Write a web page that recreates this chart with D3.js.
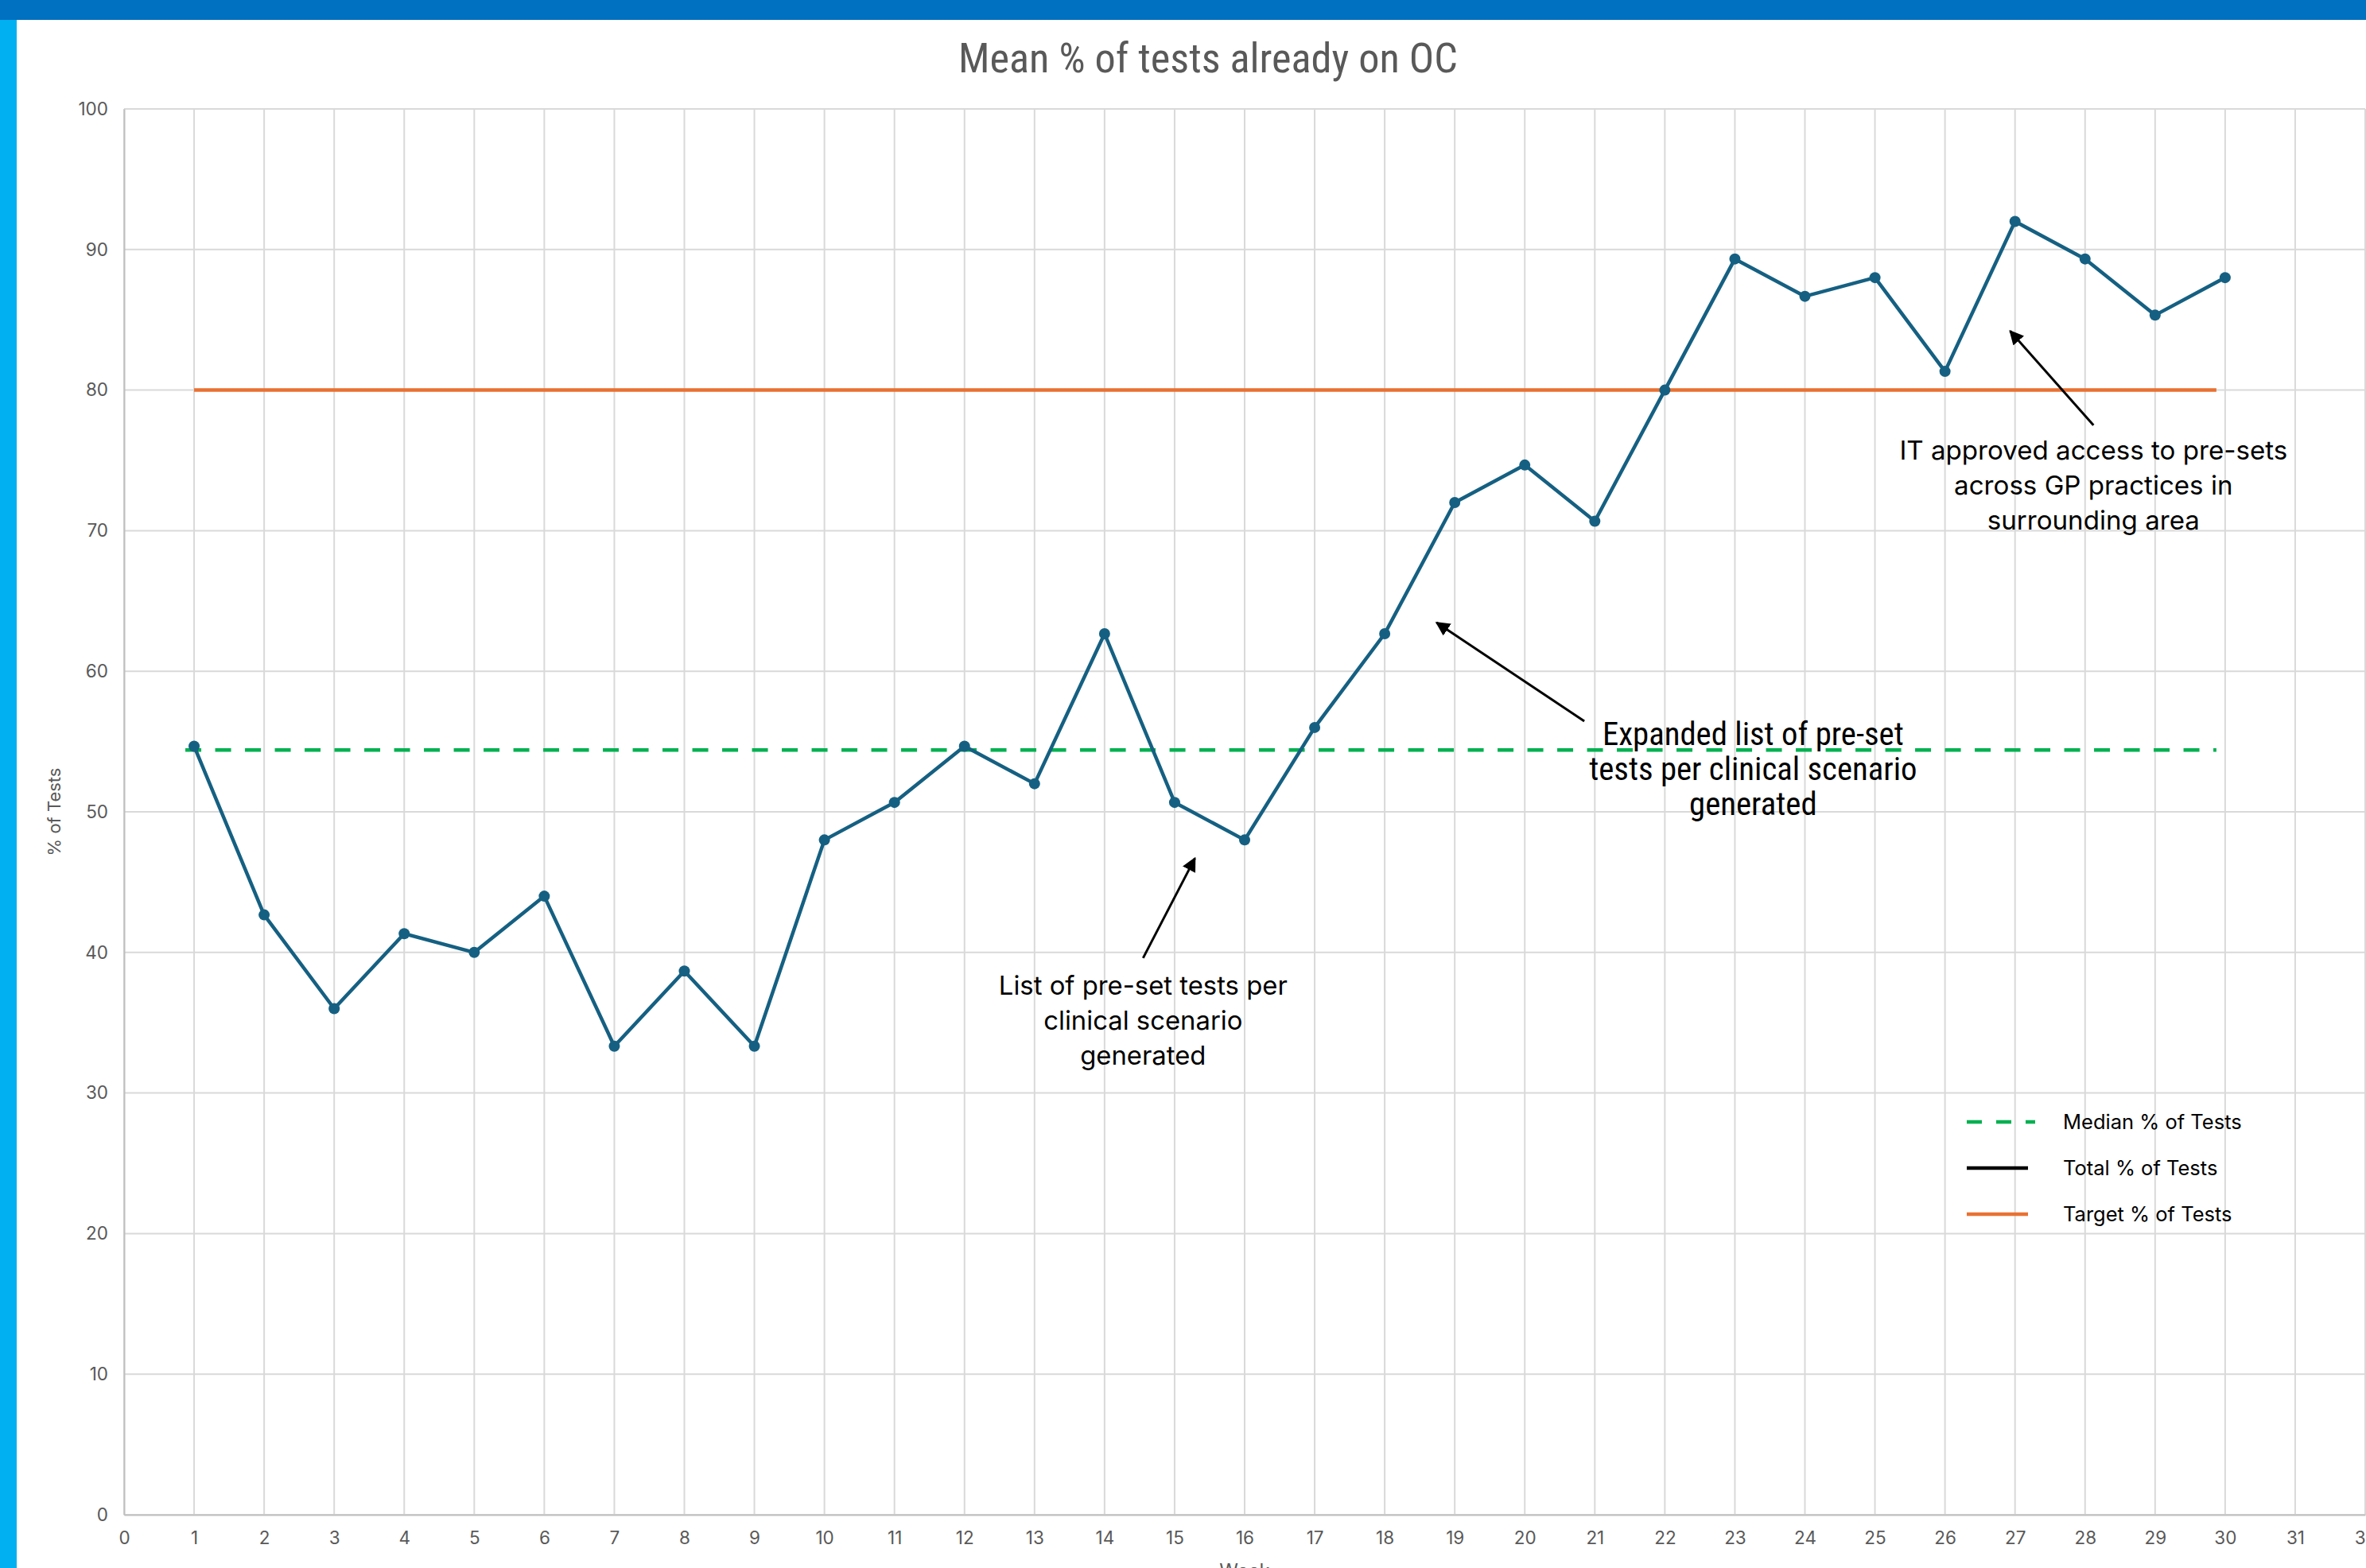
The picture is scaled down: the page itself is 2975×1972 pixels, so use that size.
<!DOCTYPE html>
<html>
<head>
<meta charset="utf-8">
<script src="https://cdn.jsdelivr.net/npm/d3@7"></script>
<style>
  html, body { margin: 0; padding: 0; background: #fff; }
  svg { display: block; }
</style>
</head>
<body>
<div id="chart"></div>
<script>
// Data
var weeks = [1, 2, 3, 4, 5, 6, 7, 8, 9, 10, 11, 12, 13, 14, 15, 16, 17, 18, 19, 20, 21, 22, 23, 24, 25, 26, 27, 28, 29, 30];
var pctTests = [54.67, 42.67, 36, 41.33, 40, 44, 33.33, 38.67, 33.33, 48, 50.67, 54.67, 52, 62.67, 50.67, 48, 56, 62.67, 72, 74.67, 70.67, 80, 89.33, 86.67, 88, 81.33, 92, 89.33, 85.33, 88];
var medianValue = 54.4;
var medianSpan = [0.875, 29.875];
var targetValue = 80;
var targetSpan = [1, 29.875];
var xTicks = [0, 1, 2, 3, 4, 5, 6, 7, 8, 9, 10, 11, 12, 13, 14, 15, 16, 17, 18, 19, 20, 21, 22, 23, 24, 25, 26, 27, 28, 29, 30, 31, 32];
var yTicks = [0, 10, 20, 30, 40, 50, 60, 70, 80, 90, 100];
var legendLabels = ['Median % of Tests', 'Total % of Tests', 'Target % of Tests'];

// annotations: text lines, text anchor (week, %), arrow tail and tip (week, %)
var notes = [
  { lines: ['List of pre-set tests per', 'clinical scenario', 'generated'], at: [14.55, 37.0], tail: [14.55, 39.6], tip: [15.29, 46.7], narrow: false, fitW: 363 },
  { lines: ['Expanded list of pre-set', 'tests per clinical scenario', 'generated'], at: [23.26, 54.75], tail: [20.85, 56.45], tip: [18.74, 63.46], narrow: true, fitW: 379 },
  { lines: ['IT approved access to pre-sets', 'across GP practices in', 'surrounding area'], at: [28.12, 75.06], tail: [28.12, 77.5], tip: [26.93, 84.2], narrow: false, fitW: 488 }
];

var width = 2975,
    height = 1972,
    margin = { top: 137, right: 1, bottom: 67, left: 156 };

var regularFont = 'Inter, "Open Sans", "Noto Sans", sans-serif',
    narrowFont = '"Liberation Sans Narrow", "Roboto Condensed", "DejaVu Sans Condensed", sans-serif';

var svg = d3.select('#chart').append('svg')
    .attr('width', width)
    .attr('height', height);

// Frame bars
svg.append('rect').attr('x', 0).attr('y', 0).attr('width', width).attr('height', 25).attr('fill', '#0070C0');
svg.append('rect').attr('x', 0).attr('y', 25).attr('width', 21).attr('height', height - 25).attr('fill', '#00B0F0');

var x = d3.scaleLinear().domain([0, 32]).range([margin.left, width - margin.right]);
var y = d3.scaleLinear().domain([0, 100]).range([height - margin.bottom, margin.top]);

// Grid
var grid = svg.append('g').attr('class', 'grid');
grid.selectAll('.vline')
    .data(xTicks)
  .enter().append('line')
    .attr('x1', function(d) { return x(d); })
    .attr('x2', function(d) { return x(d); })
    .attr('y1', y(0))
    .attr('y2', y(100))
    .attr('stroke', '#D9D9D9')
    .attr('stroke-width', 2);

grid.selectAll('.hline')
    .data(yTicks)
  .enter().append('line')
    .attr('x1', x(0))
    .attr('x2', x(32))
    .attr('y1', function(d) { return y(d); })
    .attr('y2', function(d) { return y(d); })
    .attr('stroke', '#D9D9D9')
    .attr('stroke-width', 2);

// Axes
var xAxis = d3.axisBottom(x).tickValues(xTicks).tickSize(0).tickPadding(21).tickFormat(d3.format('d'));
var yAxis = d3.axisLeft(y).tickValues(yTicks).tickSize(0).tickPadding(20).tickFormat(d3.format('d'));

var gx = svg.append('g').attr('transform', 'translate(0,' + y(0) + ')').call(xAxis);
var gy = svg.append('g').attr('transform', 'translate(' + x(0) + ',0)').call(yAxis);

[gx, gy].forEach(function(g) {
  g.select('.domain').attr('stroke', '#BFBFBF').attr('stroke-width', 2);
  g.selectAll('text')
    .attr('fill', '#595959')
    .style('font-family', regularFont)
    .style('font-size', '22.5px');
});

// Axis titles
svg.append('text')
    .attr('transform', 'translate(76,' + ((y(0) + y(100)) / 2) + ') rotate(-90)')
    .attr('text-anchor', 'middle')
    .attr('fill', '#595959')
    .style('font-family', regularFont)
    .style('font-size', '22px')
    .text('% of Tests');

svg.append('text')
    .attr('x', (x(0) + x(32)) / 2)
    .attr('y', 1984)
    .attr('text-anchor', 'middle')
    .attr('fill', '#595959')
    .style('font-family', regularFont)
    .style('font-size', '24px')
    .text('Week');

// Title
var title = svg.append('text')
    .attr('x', 1519)
    .attr('y', 91)
    .attr('text-anchor', 'middle')
    .attr('fill', '#595959')
    .style('font-family', narrowFont)
    .style('font-size', '44px')
    .text('Mean % of tests already on OC');
fitText(title, 628, 44);

// Target line
svg.append('line')
    .attr('x1', x(targetSpan[0]))
    .attr('x2', x(targetSpan[1]))
    .attr('y1', y(targetValue))
    .attr('y2', y(targetValue))
    .attr('stroke', '#E97132')
    .attr('stroke-width', 4.5);

// Median line
svg.append('line')
    .attr('x1', x(medianSpan[0]))
    .attr('x2', x(medianSpan[1]))
    .attr('y1', y(medianValue))
    .attr('y2', y(medianValue))
    .attr('stroke', '#00B050')
    .attr('stroke-width', 4.5)
    .attr('stroke-dasharray', '20,17.5');

// Main series
var series = weeks.map(function(w, i) { return { week: w, value: pctTests[i] }; });

var line = d3.line()
    .x(function(d) { return x(d.week); })
    .y(function(d) { return y(d.value); });

svg.append('path')
    .datum(series)
    .attr('d', line)
    .attr('fill', 'none')
    .attr('stroke', '#156082')
    .attr('stroke-width', 4.5)
    .attr('stroke-linejoin', 'round');

svg.selectAll('.dot')
    .data(series)
  .enter().append('circle')
    .attr('class', 'dot')
    .attr('cx', function(d) { return x(d.week); })
    .attr('cy', function(d) { return y(d.value); })
    .attr('r', 7)
    .attr('fill', '#156082');

// Arrow marker
svg.append('defs').append('marker')
    .attr('id', 'arrow')
    .attr('viewBox', '0 0 10 10')
    .attr('refX', 9)
    .attr('refY', 5)
    .attr('markerWidth', 6)
    .attr('markerHeight', 6)
    .attr('markerUnits', 'strokeWidth')
    .attr('orient', 'auto')
  .append('path')
    .attr('d', 'M0,0L10,5L0,10z')
    .attr('fill', '#000');

// Annotations
notes.forEach(function(n) {
  svg.append('line')
    .attr('x1', x(n.tail[0]))
    .attr('y1', y(n.tail[1]))
    .attr('x2', x(n.tip[0]))
    .attr('y2', y(n.tip[1]))
    .attr('stroke', '#000')
    .attr('stroke-width', 3)
    .attr('marker-end', 'url(#arrow)');

  var t = svg.append('text')
    .attr('x', x(n.at[0]))
    .attr('y', y(n.at[1]))
    .attr('text-anchor', 'middle')
    .attr('fill', '#000')
    .style('font-family', n.narrow ? narrowFont : regularFont)
    .style('font-size', '32px');

  n.lines.forEach(function(s, i) {
    t.append('tspan')
      .attr('x', x(n.at[0]))
      .attr('dy', i === 0 ? 0 : 44)
      .text(s);
  });

  // size to match the first line's width
  var first = t.select('tspan').node().getComputedTextLength();
  t.style('font-size', (32 * n.fitW / first) + 'px');
});

// Legend
var legend = svg.append('g').attr('transform', 'translate(2473,1411)');
var legendStyles = [
  { color: '#00B050', dash: '19,18', len: 86 },
  { color: '#000000', dash: null, len: 77 },
  { color: '#E97132', dash: null, len: 77 }
];

legendLabels.forEach(function(lbl, i) {
  var row = legend.append('g').attr('transform', 'translate(0,' + (i * 58) + ')');
  row.append('line')
    .attr('x1', 0)
    .attr('x2', legendStyles[i].len)
    .attr('y1', 0)
    .attr('y2', 0)
    .attr('stroke', legendStyles[i].color)
    .attr('stroke-width', 4.5)
    .attr('stroke-dasharray', legendStyles[i].dash);
  row.append('text')
    .attr('x', 121)
    .attr('y', 9)
    .attr('fill', '#000')
    .style('font-family', regularFont)
    .style('font-size', '25.5px')
    .text(lbl);
});

function fitText(sel, targetW, size) {
  var w = sel.node().getComputedTextLength();
  sel.style('font-size', (size * targetW / w) + 'px');
}
</script>
</body>
</html>
